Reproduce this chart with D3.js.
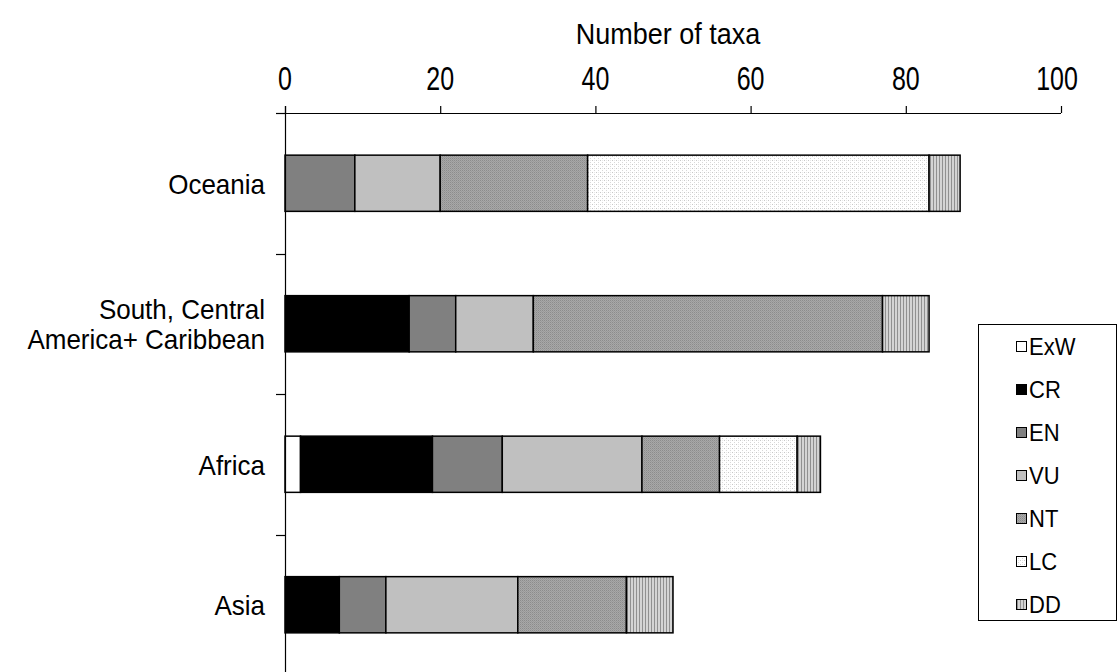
<!DOCTYPE html>
<html><head><meta charset="utf-8">
<script src="https://cdn.jsdelivr.net/npm/d3@7"></script>
<style>
html,body{margin:0;padding:0;background:#fff;}
svg{display:block;font-family:"Liberation Sans",Arial,sans-serif;}
</style></head>
<body>
<svg id="chart" width="1118" height="672"></svg>
<script>
const categories = ["Oceania", "South, Central\nAmerica+ Caribbean", "Africa", "Asia"];
const seriesNames = ["ExW", "CR", "EN", "VU", "NT", "LC", "DD"];
const ExW = [0, 0, 2, 0];
const CR  = [0, 16, 17, 7];
const EN  = [9, 6, 9, 6];
const VU  = [11, 10, 18, 17];
const NT  = [19, 45, 10, 14];
const LC  = [44, 0, 10, 0];
const DD  = [4, 6, 3, 6];
const xTicks = [0, 20, 40, 60, 80, 100];
const axisTitle = "Number of taxa";

const seriesValues = {ExW, CR, EN, VU, NT, LC, DD};
const fills = {ExW:"#ffffff", CR:"#000000", EN:"#808080", VU:"#c0c0c0", NT:"url(#pNT)", LC:"url(#pLC)", DD:"url(#pDD)"};

const svg = d3.select("#chart");
const defs = svg.append("defs");
let p = defs.append("pattern").attr("id","pNT").attr("patternUnits","userSpaceOnUse").attr("width",2).attr("height",2);
p.append("rect").attr("width",2).attr("height",2).attr("fill","#a8a8a8");
p.append("rect").attr("width",1).attr("height",1).attr("fill","#8c8c8c");
p.append("rect").attr("x",1).attr("y",1).attr("width",1).attr("height",1).attr("fill","#9a9a9a");
p = defs.append("pattern").attr("id","pLC").attr("patternUnits","userSpaceOnUse").attr("width",4).attr("height",4);
p.append("rect").attr("width",4).attr("height",4).attr("fill","#ffffff");
p.append("rect").attr("x",0).attr("y",0).attr("width",1).attr("height",1).attr("fill","#c8c8c8");
p.append("rect").attr("x",2).attr("y",2).attr("width",1).attr("height",1).attr("fill","#d8d8d8");
p.append("rect").attr("x",2).attr("y",0).attr("width",1).attr("height",1).attr("fill","#e8e8e8");
p = defs.append("pattern").attr("id","pDD").attr("patternUnits","userSpaceOnUse").attr("width",3).attr("height",3);
p.append("rect").attr("width",3).attr("height",3).attr("fill","#d4d4d4");
p.append("rect").attr("width",1).attr("height",3).attr("fill","#909090");

const x = d3.scaleLinear().domain([0,100]).range([285, 1061]);
const y = d3.scaleBand().domain(categories).range([113, 675]).paddingInner(0.6).paddingOuter(0.3);
const yb = d3.scaleBand().domain(categories).range([113, 675]);

const stack = d3.stack().keys(seriesNames);
const rows = categories.map((c,i)=>{const r={cat:c}; seriesNames.forEach(s=>r[s]=seriesValues[s][i]); return r;});
const stacked = stack(rows);

const g = svg.append("g");
stacked.forEach(layer=>{
  g.selectAll(null).data(layer.filter(d=>d[1]-d[0]>0)).enter().append("rect")
    .attr("x", d=>x(d[0])).attr("width", d=>x(d[1])-x(d[0]))
    .attr("y", d=>y(d.data.cat)).attr("height", y.bandwidth())
    .attr("fill", fills[layer.key]).attr("stroke","#000").attr("stroke-width",1.5);
});

function stext(sel, tx, ty, str, size, sy, anchor){
  return sel.append("text").attr("transform",`translate(${tx},${ty}) scale(1,${sy})`)
    .attr("text-anchor",anchor).attr("dy","0.35em").attr("font-size",size).attr("fill","#000").text(str);
}

// top axis
const xa = svg.append("g").attr("transform","translate(0,113)")
  .call(d3.axisTop(x).tickValues(xTicks).tickSize(7).tickSizeOuter(0).tickFormat(""));
xa.select(".domain").attr("stroke","#000").attr("stroke-width",1.2).attr("d","M276,0.5H1061");
xa.selectAll(".tick line").attr("stroke","#000").attr("stroke-width",1.2);
xTicks.forEach(t=>stext(svg, x(t) - (t===100 ? 4 : 0), 79, d3.format("d")(t), 25, 1.3, "middle"));

// left axis line with boundary ticks
svg.append("line").attr("x1",285.5).attr("x2",285.5).attr("y1",106).attr("y2",672).attr("stroke","#000").attr("stroke-width",1.2);
svg.selectAll(null).data(categories).enter().append("line")
  .attr("x1",276).attr("x2",285).attr("y1",d=>Math.round(yb(d))+0.5).attr("y2",d=>Math.round(yb(d))+0.5)
  .attr("stroke","#000").attr("stroke-width",1.2);

// category labels
categories.forEach(c=>{
  const lines = c.split("\n");
  const cy = y(c) + y.bandwidth()/2;
  lines.forEach((l,i)=>stext(svg, 265, cy + 1 + (i-(lines.length-1)/2)*30, l, 26, 1.05, "end"));
});

// axis title
stext(svg, 668, 34, axisTitle, 27, 1.1, "middle");

// legend
const lg = svg.append("g");
lg.append("rect").attr("x",978.5).attr("y",324.5).attr("width",138).attr("height",296).attr("fill","#fff").attr("stroke","#000").attr("stroke-width",1);
seriesNames.forEach((s,i)=>{
  const cy = 347 + i*43;
  lg.append("rect").attr("x",1016.5).attr("y",cy-5.5).attr("width",10).attr("height",10).attr("fill",fills[s]).attr("stroke","#000").attr("stroke-width",1);
  stext(lg, 1029, cy, s, 22, 1.1, "start");
});
</script>
</body></html>
